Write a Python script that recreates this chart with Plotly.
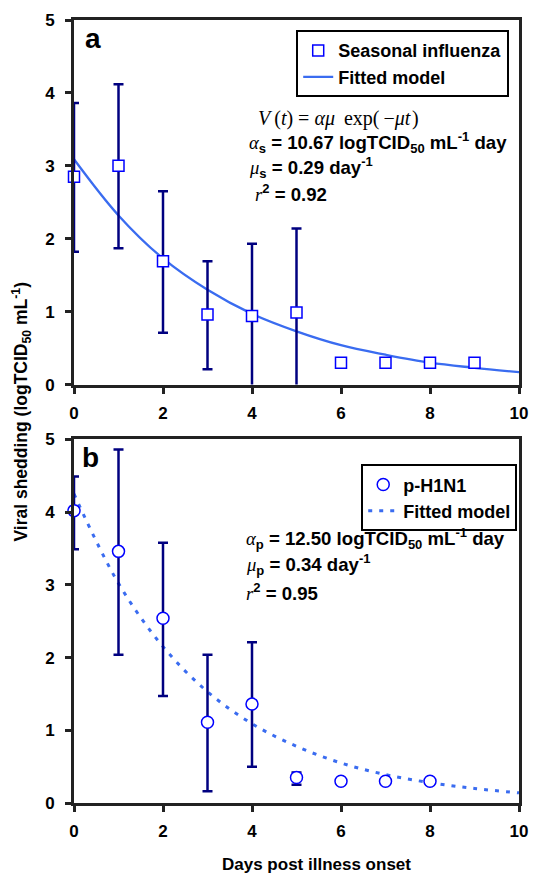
import plotly.graph_objects as go

# ---------------- data ----------------
days_s = [0, 1, 2, 3, 4, 5, 6, 7, 8, 9]
mean_s = [2.85, 3.00, 1.69, 0.96, 0.94, 0.99, 0.30, 0.30, 0.30, 0.30]
upper_s = [3.86, 4.12, 2.65, 1.69, 1.93, 2.14, None, None, None, None]
lower_s = [1.82, 1.87, 0.71, 0.21, -0.05, -0.19, None, None, None, None]

fit_days = [0, 1, 2, 3, 4, 5, 6, 7, 8, 9, 10]
fit_s = [3.09, 2.32, 1.73, 1.30, 0.97, 0.73, 0.54, 0.41, 0.30, 0.23, 0.17]

days_p = [0, 1, 2, 3, 4, 5, 6, 7, 8]
mean_p = [4.02, 3.46, 2.54, 1.11, 1.36, 0.35, 0.30, 0.30, 0.30]
upper_p = [4.49, 4.86, 3.58, 2.04, 2.21, 0.42, None, None, None]
lower_p = [3.49, 2.04, 1.47, 0.16, 0.50, 0.25, None, None, None]

fit_p = [4.25, 3.02, 2.15, 1.53, 1.09, 0.78, 0.55, 0.39, 0.28, 0.20, 0.14]

x_ticks = [0, 2, 4, 6, 8, 10]
y_ticks = [0, 1, 2, 3, 4, 5]


def err(mean, up, lo):
    plus = [(u - m) if u is not None else 0 for m, u in zip(mean, up)]
    minus = [(m - l) if l is not None else 0 for m, l in zip(mean, lo)]
    return plus, minus


ps, ms = err(mean_s, upper_s, lower_s)
pp, mp = err(mean_p, upper_p, lower_p)

FONT = "Liberation Sans, Arial, sans-serif"
SERIF = "Liberation Serif, Times New Roman, serif"
MARK_BLUE = "#0000ff"
ERR_NAVY = "#000080"
FIT_BLUE = "#3a6cf0"

fig = go.Figure()

# top panel
fig.add_trace(go.Scatter(
    x=fit_days, y=fit_s, mode="lines", name="<b>Fitted model</b>",
    line=dict(color=FIT_BLUE, width=2.3, shape="spline"),
    xaxis="x", yaxis="y", legend="legend", legendrank=2,
))
fig.add_trace(go.Scatter(
    x=days_s, y=mean_s, mode="markers", name="<b>Seasonal influenza</b>",
    marker=dict(symbol="square", size=11, color="white",
                line=dict(color=MARK_BLUE, width=1.5)),
    error_y=dict(type="data", array=ps, arrayminus=ms, color=ERR_NAVY,
                 thickness=2.5, width=5),
    cliponaxis=False, xaxis="x", yaxis="y", legend="legend", legendrank=1,
))

# bottom panel
fig.add_trace(go.Scatter(
    x=fit_days, y=fit_p, mode="lines", name="<b>Fitted model</b>",
    line=dict(color=FIT_BLUE, width=3, dash="4px,7px", shape="spline"),
    xaxis="x2", yaxis="y2", legend="legend2", legendrank=2,
))
fig.add_trace(go.Scatter(
    x=days_p, y=mean_p, mode="markers", name="<b>p-H1N1</b>",
    marker=dict(symbol="circle", size=12, color="white",
                line=dict(color=MARK_BLUE, width=1.5)),
    error_y=dict(type="data", array=pp, arrayminus=mp, color=ERR_NAVY,
                 thickness=2.5, width=5),
    cliponaxis=False, xaxis="x2", yaxis="y2", legend="legend2", legendrank=1,
))

axis_common = dict(
    showline=True, linewidth=3, linecolor="#222222", mirror=True,
    ticks="outside", ticklen=6, tickwidth=3, tickcolor="#222222",
    showgrid=False, zeroline=False,
    tickfont=dict(family=FONT, size=17, color="black", weight="bold"),
)
xax = dict(axis_common, ticklabelstandoff=5)
yax = dict(axis_common, ticklabelstandoff=7)

fig.update_layout(
    width=539, height=877,
    margin=dict(l=74, r=11, t=17, b=74),
    paper_bgcolor="white", plot_bgcolor="white",
    font=dict(family=FONT, color="black"),
    xaxis=dict(domain=[0, 1], anchor="y", range=[0, 10], tickvals=x_ticks, **xax),
    yaxis=dict(domain=[0.5344, 1], anchor="x", range=[0, 5], tickvals=y_ticks, **yax),
    xaxis2=dict(domain=[0, 1], anchor="y2", range=[0, 10], tickvals=x_ticks, **xax),
    yaxis2=dict(domain=[0, 0.4644], anchor="x2", range=[0, 5], tickvals=y_ticks, **yax),
    legend=dict(x=0.978, y=0.987, xanchor="right", yanchor="top",
                bordercolor="black", borderwidth=2, bgcolor="white",
                font=dict(family=FONT, size=18, color="black"),
                tracegroupgap=0, itemwidth=30),
    legend2=dict(x=0.996, y=0.4326, xanchor="right", yanchor="top",
                 bordercolor="black", borderwidth=2, bgcolor="white",
                 font=dict(family=FONT, size=18, color="black"),
                 tracegroupgap=0, itemwidth=30),
    showlegend=True,
)


def gk(ch):
    return f"<span style='font-family:{SERIF}'><i>{ch}</i></span>"


ann = []
ann.append(dict(text="<b>a</b>", x=0.042, y=0.977, font=dict(size=28)))
ann.append(dict(text="<b>b</b>", x=0.038, y=0.441, font=dict(size=28)))

eq = (f"<span style='font-family:{SERIF}'><i>V</i>&#8201;(<i>t</i>) = <i>αμ</i>&#8201; exp(&#8201;−<i>μt</i>&#8202;)</span>")
ann.append(dict(text=eq, x=0.410, y=0.874, xanchor="left", font=dict(size=20)))

lines_top = [
    (gk("α") + "<b><sub>s</sub> = 10.67 logTCID<sub>50</sub> mL<sup>-1</sup> day</b>", 0.388, 0.844),
    (gk("μ") + "<b><sub>s</sub> = 0.29 day<sup>-1</sup></b>", 0.388, 0.812),
    (gk("r") + "<b><sup>2</sup> = 0.92</b>", 0.403, 0.779),
]
lines_bot = [
    (gk("α") + "<b><sub>p</sub> = 12.50 logTCID<sub>50</sub> mL<sup>-1</sup> day</b>", 0.381, 0.338),
    (gk("μ") + "<b><sub>p</sub> = 0.34 day<sup>-1</sup></b>", 0.381, 0.304),
    (gk("r") + "<b><sup>2</sup> = 0.95</b>", 0.381, 0.270),
]
for t, x, y in lines_top + lines_bot:
    ann.append(dict(text=t, x=x, y=y, xanchor="left", font=dict(size=18.6)))

ann.append(dict(text="<b>Viral shedding (logTCID<sub>50</sub> mL<sup>-1</sup>)</b>",
                x=-0.119, y=0.500, textangle=-90, font=dict(size=17.5)))
ann.append(dict(text="<b>Days post illness onset</b>", x=0.545, y=-0.078,
                font=dict(size=17)))

for a in ann:
    a.setdefault("xanchor", "center")
    a.update(xref="paper", yref="paper", showarrow=False, yanchor="middle")
    a["font"] = dict(family=FONT, color="black", **a["font"])
    fig.add_annotation(**a)

fig.write_html("out.html", config={"displayModeBar": False},
               post_script="document.body.style.margin='0px';")
